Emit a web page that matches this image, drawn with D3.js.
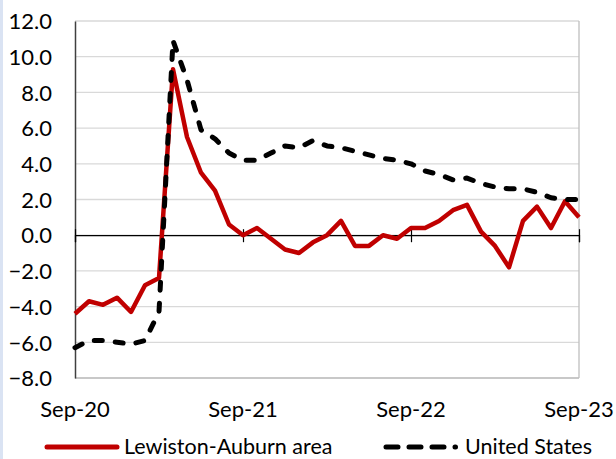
<!DOCTYPE html>
<html>
<head>
<meta charset="utf-8">
<script src="https://cdn.jsdelivr.net/npm/d3@7"></script>
<style>
  body { margin: 0; background: #fff; }
  svg { display: block; }
  text { font-family: Lato, "Noto Sans", sans-serif; fill: #000; }
</style>
</head>
<body>
<svg width="616" height="459"></svg>
<script>
// monthly values, Sep-20 .. Sep-23
var months = ["Sep-20","Oct-20","Nov-20","Dec-20","Jan-21","Feb-21","Mar-21","Apr-21","May-21","Jun-21","Jul-21","Aug-21",
              "Sep-21","Oct-21","Nov-21","Dec-21","Jan-22","Feb-22","Mar-22","Apr-22","May-22","Jun-22","Jul-22","Aug-22",
              "Sep-22","Oct-22","Nov-22","Dec-22","Jan-23","Feb-23","Mar-23","Apr-23","May-23","Jun-23","Jul-23","Aug-23","Sep-23"];
var lewiston = [-4.4,-3.7,-3.9,-3.5,-4.3,-2.8,-2.4,9.3,5.5,3.5,2.5,0.6,
                0.0,0.4,-0.2,-0.8,-1.0,-0.4,0.0,0.8,-0.6,-0.6,0.0,-0.2,
                0.4,0.4,0.8,1.4,1.7,0.2,-0.6,-1.8,0.8,1.6,0.4,1.9,1.0];
var usa = [-6.3,-5.9,-5.9,-6.0,-6.1,-5.9,-4.3,10.9,8.7,5.9,5.4,4.6,
           4.2,4.2,4.6,5.0,4.9,5.3,5.0,4.9,4.7,4.5,4.3,4.2,
           4.0,3.6,3.4,3.1,3.2,2.9,2.7,2.6,2.6,2.4,2.1,2.0,2.0];
var tickLabels = ["Sep-20","Sep-21","Sep-22","Sep-23"];
var yTicks = [-8,-6,-4,-2,0,2,4,6,8,10,12];

var svg = d3.select("svg"),
    margin = {top: 21, right: 37, bottom: 81, left: 75},
    width = +svg.attr("width") - margin.left - margin.right,
    height = +svg.attr("height") - margin.top - margin.bottom;

// light blue strip on the left edge
svg.append("rect").attr("x", 0).attr("y", 0).attr("width", 3).attr("height", 459).attr("fill", "#dae3f3");

var x = d3.scalePoint().domain(months).range([0, width]),
    y = d3.scaleLinear().domain([-8, 12]).range([height, 0]);

var g = svg.append("g")
    .attr("transform", "translate(" + margin.left + "," + margin.top + ")");

// gridlines
g.selectAll(".grid")
    .data(yTicks)
    .enter().append("line")
    .attr("x1", 0).attr("x2", width)
    .attr("y1", function(d) { return y(d); })
    .attr("y2", function(d) { return y(d); })
    .attr("stroke", "#d9d9d9")
    .attr("stroke-width", 1.3);

// plot border right / bottom
g.append("line").attr("x1", width).attr("x2", width).attr("y1", 0).attr("y2", height)
    .attr("stroke", "#bfbfbf").attr("stroke-width", 1.3);
g.append("line").attr("x1", 0).attr("x2", width).attr("y1", height).attr("y2", height)
    .attr("stroke", "#bfbfbf").attr("stroke-width", 1.3);

// y axis
var yAxis = g.append("g")
    .call(d3.axisLeft(y).tickValues(yTicks).tickSize(0).tickPadding(23).tickFormat(d3.format(".1f")));
yAxis.select(".domain").attr("stroke", "#404040").attr("stroke-width", 1.5);
yAxis.selectAll("text").style("font-size", "22px").attr("dy", "0.35em");

// x axis along zero
var xAxis = g.append("g")
    .attr("transform", "translate(0," + y(0) + ")")
    .call(d3.axisBottom(x).tickValues(tickLabels).tickSize(7).tickFormat(""));
xAxis.select(".domain").attr("stroke", "#000").attr("stroke-width", 1.2);
xAxis.selectAll(".tick line").attr("y1", -6).attr("stroke", "#000").attr("stroke-width", 1.2);

// x labels at bottom
g.selectAll(".xlab")
    .data(tickLabels)
    .enter().append("text")
    .attr("x", function(d) { return x(d); })
    .attr("y", height + 39)
    .attr("text-anchor", "middle")
    .style("font-size", "22px")
    .text(function(d) { return d; });

var line = d3.line()
    .x(function(d, i) { return x(months[i]); })
    .y(function(d) { return y(d); });

g.append("path")
    .datum(lewiston)
    .attr("d", line)
    .attr("fill", "none")
    .attr("stroke", "#c00000")
    .attr("stroke-width", 4.5)
    .attr("stroke-linejoin", "round");

g.append("path")
    .datum(usa)
    .attr("d", line)
    .attr("fill", "none")
    .attr("stroke", "#000")
    .attr("stroke-width", 5)
    .attr("stroke-linecap", "round")
    .attr("stroke-linejoin", "round")
    .attr("stroke-dasharray", "8,13");

// legend
var leg = svg.append("g").attr("transform", "translate(0,447)");
leg.append("line").attr("x1", 47).attr("x2", 117).attr("y1", 0).attr("y2", 0)
    .attr("stroke", "#c00000").attr("stroke-width", 5).attr("stroke-linecap", "round");
leg.append("text").attr("x", 124).attr("y", 0).attr("dy", "0.33em")
    .style("font-size", "21.5px").text("Lewiston-Auburn area");
leg.append("line").attr("x1", 386).attr("x2", 455.5).attr("y1", 0).attr("y2", 0)
    .attr("stroke", "#000").attr("stroke-width", 5).attr("stroke-linecap", "round")
    .attr("stroke-dasharray", "12,11");
leg.append("text").attr("x", 465).attr("y", 0).attr("dy", "0.33em")
    .style("font-size", "21.5px").text("United States");
</script>
</body>
</html>
